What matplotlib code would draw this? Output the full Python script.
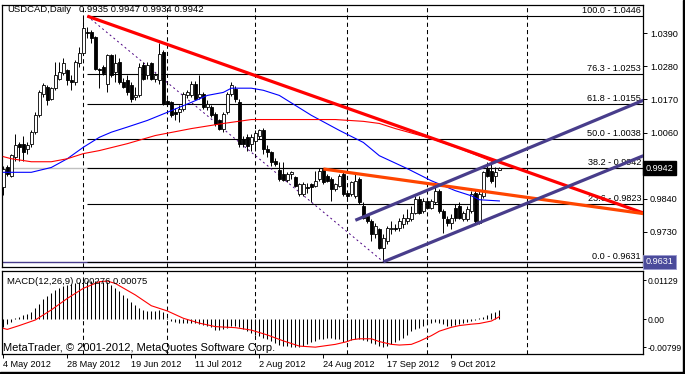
import matplotlib
matplotlib.use("Agg")
import matplotlib.pyplot as plt
from matplotlib.patches import Rectangle
import numpy as np

plt.rcParams['font.family'] = ['Liberation Sans', 'DejaVu Sans']
plt.rcParams['font.size'] = 6.6

# daily bars, 4 May 2012 .. 25 Oct 2012 (bar index 0..124)
opens = [0.9880, 0.9945, 0.9917, 0.9978, 1.0022, 1.0022, 1.0006, 1.0022, 1.0061, 1.0117,
         1.0189, 1.0211, 1.0172, 1.0206, 1.0239, 1.0256, 1.0267, 1.0234, 1.0228, 1.0289,
         1.0323, 1.0394, 1.0394, 1.0378, 1.0272, 1.0278, 1.0222, 1.0317, 1.0261, 1.0294,
         1.0228, 1.0233, 1.0217, 1.0178, 1.0183, 1.0283, 1.0250, 1.0289, 1.0239, 1.0233,
         1.0328, 1.0165, 1.0160, 1.0128, 1.0128, 1.0139, 1.0185, 1.0183, 1.0222, 1.0178,
         1.0189, 1.0144, 1.0144, 1.0122, 1.0100, 1.0072, 1.0128, 1.0189, 1.0205, 1.0161,
         1.0039, 1.0045, 1.0022, 1.0033, 1.0050, 1.0067, 1.0006, 0.9995, 0.9967, 0.9935,
         0.9922, 0.9904, 0.9922, 0.9911, 0.9856, 0.9856, 0.9878, 0.9889, 0.9883, 0.9906,
         0.9939, 0.9917, 0.9906, 0.9872, 0.9883, 0.9922, 0.9861, 0.9856, 0.9850, 0.9906,
         0.9817, 0.9783, 0.9767, 0.9722, 0.9739, 0.9678, 0.9700, 0.9739, 0.9742, 0.9744,
         0.9756, 0.9767, 0.9772, 0.9794, 0.9839, 0.9800, 0.9833, 0.9811, 0.9828, 0.9867,
         0.9800, 0.9772, 0.9761, 0.9811, 0.9817, 0.9772, 0.9772, 0.9800, 0.9861, 0.9761,
         0.9850, 0.9939, 0.9933, 0.9917, 0.9935]
highs = [0.9950, 0.9952, 0.9990, 1.0056, 1.0028, 1.0050, 1.0028, 1.0067, 1.0128, 1.0200,
         1.0223, 1.0217, 1.0211, 1.0295, 1.0295, 1.0306, 1.0272, 1.0250, 1.0300, 1.0345,
         1.0446, 1.0411, 1.0400, 1.0380, 1.0275, 1.0285, 1.0322, 1.0322, 1.0322, 1.0306,
         1.0240, 1.0250, 1.0228, 1.0211, 1.0289, 1.0294, 1.0294, 1.0294, 1.0256, 1.0356,
         1.0335, 1.0172, 1.0165, 1.0140, 1.0150, 1.0195, 1.0200, 1.0230, 1.0230, 1.0250,
         1.0195, 1.0167, 1.0150, 1.0128, 1.0105, 1.0128, 1.0195, 1.0228, 1.0215, 1.0170,
         1.0050, 1.0055, 1.0056, 1.0067, 1.0070, 1.0075, 1.0017, 1.0000, 0.9975, 0.9961,
         0.9961, 0.9930, 0.9933, 0.9915, 0.9894, 0.9895, 0.9894, 0.9894, 0.9933, 0.9942,
         0.9940, 0.9922, 0.9911, 0.9894, 0.9922, 0.9928, 0.9867, 0.9900, 0.9928, 0.9911,
         0.9828, 0.9790, 0.9772, 0.9761, 0.9744, 0.9722, 0.9750, 0.9767, 0.9756, 0.9778,
         0.9789, 0.9806, 0.9817, 0.9850, 0.9850, 0.9844, 0.9840, 0.9839, 0.9878, 0.9872,
         0.9806, 0.9783, 0.9789, 0.9822, 0.9828, 0.9800, 0.9817, 0.9867, 0.9872, 0.9867,
         0.9933, 0.9961, 0.9967, 0.9944, 0.9947]
lows = [0.9853, 0.9917, 0.9911, 0.9967, 0.9967, 0.9967, 0.9990, 1.0011, 1.0056, 1.0111,
        1.0178, 1.0150, 1.0167, 1.0200, 1.0234, 1.0250, 1.0217, 1.0200, 1.0217, 1.0278,
        1.0317, 1.0372, 1.0356, 1.0267, 1.0206, 1.0250, 1.0194, 1.0244, 1.0228, 1.0222,
        1.0206, 1.0183, 1.0161, 1.0167, 1.0178, 1.0233, 1.0239, 1.0233, 1.0228, 1.0222,
        1.0150, 1.0150, 1.0110, 1.0100, 1.0095, 1.0130, 1.0175, 1.0178, 1.0170, 1.0170,
        1.0139, 1.0133, 1.0111, 1.0083, 1.0067, 1.0061, 1.0122, 1.0180, 1.0160, 1.0011,
        1.0011, 1.0000, 1.0000, 1.0000, 1.0040, 0.9989, 0.9978, 0.9950, 0.9950, 0.9900,
        0.9900, 0.9895, 0.9905, 0.9880, 0.9850, 0.9850, 0.9861, 0.9828, 0.9878, 0.9900,
        0.9889, 0.9895, 0.9833, 0.9865, 0.9878, 0.9850, 0.9839, 0.9850, 0.9844, 0.9822,
        0.9772, 0.9760, 0.9700, 0.9711, 0.9672, 0.9631, 0.9690, 0.9722, 0.9733, 0.9733,
        0.9744, 0.9756, 0.9767, 0.9789, 0.9789, 0.9794, 0.9806, 0.9806, 0.9822, 0.9794,
        0.9728, 0.9750, 0.9739, 0.9767, 0.9772, 0.9767, 0.9767, 0.9794, 0.9761, 0.9756,
        0.9844, 0.9911, 0.9894, 0.9878, 0.9934]
closes = [0.9940, 0.9923, 0.9984, 1.0017, 1.0011, 0.9995, 1.0017, 1.0061, 1.0117, 1.0195,
          1.0217, 1.0167, 1.0206, 1.0250, 1.0261, 1.0289, 1.0234, 1.0228, 1.0295, 1.0323,
          1.0406, 1.0390, 1.0372, 1.0272, 1.0267, 1.0256, 1.0317, 1.0250, 1.0289, 1.0228,
          1.0211, 1.0194, 1.0172, 1.0183, 1.0278, 1.0239, 1.0283, 1.0239, 1.0250, 1.0322,
          1.0156, 1.0156, 1.0117, 1.0120, 1.0139, 1.0189, 1.0195, 1.0222, 1.0172, 1.0189,
          1.0144, 1.0156, 1.0117, 1.0089, 1.0072, 1.0122, 1.0189, 1.0217, 1.0170, 1.0022,
          1.0022, 1.0015, 1.0044, 1.0060, 1.0067, 1.0006, 0.9995, 0.9961, 0.9956, 0.9906,
          0.9904, 0.9922, 0.9928, 0.9884, 0.9889, 0.9889, 0.9876, 0.9878, 0.9900, 0.9933,
          0.9895, 0.9900, 0.9872, 0.9889, 0.9917, 0.9856, 0.9850, 0.9895, 0.9900, 0.9828,
          0.9778, 0.9767, 0.9722, 0.9750, 0.9678, 0.9711, 0.9744, 0.9742, 0.9739, 0.9767,
          0.9778, 0.9778, 0.9794, 0.9839, 0.9794, 0.9833, 0.9811, 0.9833, 0.9867, 0.9800,
          0.9778, 0.9761, 0.9778, 0.9778, 0.9778, 0.9794, 0.9806, 0.9856, 0.9767, 0.9856,
          0.9928, 0.9917, 0.9900, 0.9928, 0.9942]

# moving averages read at sparse bars
ma_fast_x = [0, 2, 7, 12, 16, 20, 24, 27, 31, 36, 41, 47, 51, 55, 57, 62, 65, 69, 73, 77,
             84, 90, 94, 101, 107, 113, 117, 119, 124]
ma_fast_y = [0.9928, 0.9928, 0.9928, 0.9944, 0.9973, 1.0011, 1.0044, 1.0061, 1.0078, 1.0100,
             1.0127, 1.0160, 1.0183, 1.0193, 1.0207, 1.0207, 1.0200, 1.0183, 1.0150, 1.0117,
             1.0067, 1.0027, 0.9983, 0.9940, 0.9900, 0.9867, 0.9850, 0.9837, 0.9833]
ma_slow_x = [0, 2, 7, 12, 16, 20, 24, 31, 38, 47, 55, 62, 72, 83, 90, 94, 98, 107, 114, 123]
ma_slow_y = [0.9980, 0.9973, 0.9963, 0.9963, 0.9973, 0.9990, 1.0000, 1.0023, 1.0050, 1.0073,
             1.0090, 1.0103, 1.0103, 1.0103, 1.0097, 1.0090, 1.0073, 1.0040, 1.0007, 0.9960]

# MACD(12,26,9)
macd_hist = [-0.0021, -0.0014, -0.0009, 0.0003, 0.0006, 0.0011, 0.0016, 0.0022, 0.0032, 0.0043,
             0.0057, 0.0067, 0.0077, 0.0084, 0.0091, 0.0096, 0.0099, 0.0101, 0.0105, 0.0108,
             0.0110, 0.0111, 0.0111, 0.0111, 0.0110, 0.0108, 0.0106, 0.0100, 0.0091, 0.0081,
             0.0070, 0.0060, 0.0051, 0.0041, 0.0032, 0.0027, 0.0024, 0.0024, 0.0024, 0.0026,
             0.0022, 0.0003, -0.0005, -0.0009, -0.0012, -0.0012, -0.0011, -0.0010, -0.0011, -0.0013,
             -0.0016, -0.0019, -0.0023, -0.0031, -0.0031, -0.0028, -0.0024, -0.0019, -0.0018, -0.0022,
             -0.0028, -0.0035, -0.0040, -0.0045, -0.0048, -0.0053, -0.0057, -0.0062, -0.0069, -0.0074,
             -0.0077, -0.0078, -0.0079, -0.0081, -0.0079, -0.0077, -0.0072, -0.0066, -0.0062, -0.0058,
             -0.0056, -0.0055, -0.0055, -0.0056, -0.0057, -0.0064, -0.0062, -0.0059, -0.0056, -0.0056,
             -0.0059, -0.0062, -0.0067, -0.0072, -0.0077, -0.0079, -0.0077, -0.0072, -0.0066, -0.0059,
             -0.0053, -0.0045, -0.0035, -0.0029, -0.0024, -0.0019, -0.0014, -0.0011, -0.0009, -0.0011,
             -0.0014, -0.0018, -0.0018, -0.0016, -0.0014, -0.0011, -0.0009, -0.0005, -0.0002, 0.0003,
             0.0008, 0.0012, 0.0017, 0.0022, 0.00276]
signal_x = [0, 1, 4, 8, 12, 16, 20, 24, 26, 28, 33, 37, 41, 45, 49, 53, 58, 62, 66, 70,
            74, 78, 83, 86, 87, 89, 92, 94, 97, 99, 102, 104, 107, 109, 112, 114, 117, 119, 122, 124]
signal_y = [-0.0026, -0.0029, -0.0018, -0.0002, 0.0027, 0.0060, 0.0089, 0.0108, 0.0110, 0.0103,
            0.0070, 0.0039, 0.0024, 0.0003, -0.0011, -0.0021, -0.0024, -0.0031, -0.0045, -0.0062,
            -0.0077, -0.0080, -0.0072, -0.0064, -0.0059, -0.0056, -0.0056, -0.0064, -0.0072, -0.0074,
            -0.0072, -0.0063, -0.0047, -0.0034, -0.0023, -0.0018, -0.0014, -0.0012, -0.0005, 0.00075]

# fibonacci retracement
fib_pct = ['100.0', '76.3', '61.8', '50.0', '38.2', '23.6', '0.0']
fib_price = [1.0446, 1.0253, 1.0155, 1.0038, 0.9942, 0.9823, 0.9631]
fib_start = 21
fib_base_x = [21, 95]
fib_base_y = [1.0446, 0.9631]

# trend lines: (start bar, end bar), (start price, end price)
red_line = ([21, 160], [1.0446, 0.9793])
orange_line = ([80, 160], [0.9939, 0.9791])
chan_low = ([95, 160], [0.9631, 0.9983])
chan_up = ([88, 160], [0.9769, 1.0167])

month_starts = [20, 41, 63, 86, 106, 131]
date_pos = [0, 16, 32, 48, 64, 80, 96, 112]
date_lbl = ['4 May 2012', '28 May 2012', '19 Jun 2012', '11 Jul 2012',
            '2 Aug 2012', '24 Aug 2012', '17 Sep 2012', '9 Oct 2012']
price_ticks = [1.0390, 1.0280, 1.0170, 1.0060, 0.9950, 0.9840, 0.9730, 0.9620]
hidden_ticks = [0.9950, 0.9620]   # covered by the price boxes
bid = 0.9942
hline_price = 0.9631

W, H = 685, 374
fig = plt.figure(figsize=(W / 100, H / 100), dpi=100)
left = 2.3 / W
width = (643 - 2.3) / W
ax = fig.add_axes([left, 1 - 267 / H, width, (267 - 5) / H])
ax2 = fig.add_axes([left, 1 - 354 / H, width, (354 - 271) / H], sharex=ax)

x = np.arange(len(closes))
o, h, l, c = map(np.array, (opens, highs, lows, closes))
xmin, xmax = -0.25, 159.9

for a in (ax, ax2):
    for m in month_starts:
        a.axvline(m, color='black', lw=0.75, ls=(0, (4, 3)), zorder=1)
    for s in a.spines.values():
        s.set_linewidth(0.9)

# bid line and horizontal line
ax.axhline(bid, color='#c0c0c0', lw=1.0, zorder=1)
ax.axhline(hline_price, color='#483d8b', lw=1.0, zorder=1)

# fib levels
ax.hlines(fib_price, fib_start, xmax, color='black', lw=0.8, zorder=1.5)
for p, v in zip(fib_pct, fib_price):
    ax.annotate(f'{p} - {v:.4f}', xy=(0.997, v), xycoords=('axes fraction', 'data'),
                xytext=(0, 0.8), textcoords='offset points', ha='right', va='bottom', zorder=6)
ax.plot(fib_base_x, fib_base_y, color='#4b0082', lw=0.7, ls=(0, (2, 3)), zorder=2)

# candles
ax.vlines(x, l, h, color='black', lw=0.7, zorder=3)
body_lo = np.minimum(o, c)
body_h = np.maximum(np.abs(c - o), 0.00004)
ax.bar(x, body_h, bottom=body_lo, width=0.7, color=np.where(c >= o, 'white', 'black'),
       edgecolor='black', lw=0.6, zorder=4)

# moving averages
ax.plot(ma_fast_x, ma_fast_y, color='#0000ff', lw=0.8, zorder=5)
ax.plot(ma_slow_x, ma_slow_y, color='#ff0000', lw=0.8, zorder=5)

# trend lines
ax.plot(*red_line, color='#ff0000', lw=2.3, zorder=6, solid_capstyle='butt')
ax.plot(*orange_line, color='#ff4500', lw=2.3, zorder=6, solid_capstyle='butt')
ax.plot(*chan_low, color='#483d8b', lw=2.3, zorder=6, solid_capstyle='butt')
ax.plot(*chan_up, color='#483d8b', lw=2.3, zorder=6, solid_capstyle='butt')

ax.set_xlim(xmin, xmax)
ax.set_ylim(0.96139, 1.04829)
ax.yaxis.tick_right()
ax.set_yticks(price_ticks)
ax.set_yticklabels(['' if v in hidden_ticks else f'{v:.4f}' for v in price_ticks])
ax.tick_params(axis='y', length=3, width=0.7, pad=2, labelsize=6.6)
ax.tick_params(axis='x', bottom=False, labelbottom=False)

box = dict(boxstyle='square,pad=0.25', fc='black', ec='black')
ax.annotate(f'{bid:.4f}', xy=(1.004, bid), xycoords=('axes fraction', 'data'),
            ha='left', va='center', color='white', bbox=box, zorder=10, annotation_clip=False)
box2 = dict(boxstyle='square,pad=0.25', fc='#4b4b9b', ec='#9a9ad0', lw=0.6)
ax.annotate(f'{hline_price:.4f}', xy=(1.004, hline_price), xycoords=('axes fraction', 'data'),
            ha='left', va='center', color='white', bbox=box2, zorder=10, annotation_clip=False)

# MACD panel
ax2.vlines(x, 0, macd_hist, color='black', lw=0.75, zorder=3)
ax2.plot(signal_x, signal_y, color='#ff0000', lw=0.8, zorder=4)
ax2.set_ylim(-0.00997, 0.01388)
ax2.yaxis.tick_right()
ax2.set_yticks([0.01129, 0.0, -0.00799])
ax2.set_yticklabels(['0.01129', '0.00', '-0.00799'])
ax2.tick_params(axis='y', length=2.5, width=0.7, pad=1, labelsize=6.2)
ax2.set_xticks(date_pos)
ax2.set_xticklabels(date_lbl, ha='left')
ax2.tick_params(axis='x', length=3, width=0.7, pad=1.5, labelsize=6.6)
ax2.set_xlim(xmin, xmax)

# header texts
fig.text(7 / W, 1 - 10 / H, 'USDCAD,Daily', va='center', fontsize=6.8)
fig.text(79 / W, 1 - 10 / H, '0.9935 0.9947 0.9934 0.9942', va='center', fontsize=6.8)
fig.text(7 / W, 1 - 282 / H, 'MACD(12,26,9) 0.00276 0.00075', va='center', fontsize=6.8)
fig.text(3 / W, 1 - 348 / H, 'MetaTrader, \u00a9 2001-2012, MetaQuotes Software Corp.',
         va='center', fontsize=8)

# window edges
fig.add_artist(Rectangle((683 / W, 0), 2 / W, 1, transform=fig.transFigure, color='black'))
fig.add_artist(Rectangle((0, 0), 1, 2.5 / H, transform=fig.transFigure, color='black'))

fig.savefig('out.png', dpi=100)
